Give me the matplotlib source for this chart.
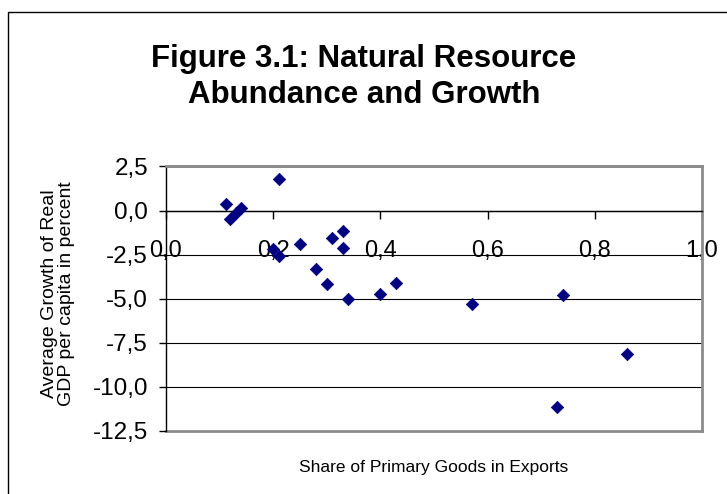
import matplotlib
matplotlib.use("Agg")
import matplotlib.pyplot as plt
from matplotlib.patches import Rectangle

plt.rcParams['font.family'] = ['Liberation Sans', 'DejaVu Sans']

# Data
share_primary = [0.112, 0.12, 0.13, 0.14, 0.21, 0.20, 0.21, 0.25, 0.28, 0.30,
                 0.31, 0.33, 0.33, 0.34, 0.40, 0.43, 0.57, 0.73, 0.74, 0.86]
growth = [0.40, -0.45, -0.15, 0.15, 1.80, -2.16, -2.56, -1.91, -3.30, -4.19,
          -1.57, -1.15, -2.14, -5.04, -4.73, -4.11, -5.30, -11.12, -4.77, -8.11]

x_ticks = [0.0, 0.2, 0.4, 0.6, 0.8, 1.0]
x_tick_labels = ["0,0", "0,2", "0,4", "0,6", "0,8", "1,0"]
y_ticks = [2.5, 0.0, -2.5, -5.0, -7.5, -10.0, -12.5]
y_tick_labels = ["2,5", "0,0", "-2,5", "-5,0", "-7,5", "-10,0", "-12,5"]

title = "Figure 3.1: Natural Resource\nAbundance and Growth"
xlabel = "Share of Primary Goods in Exports"
ylabel = "Average Growth of Real\nGDP per capita in percent"

W, H = 727, 494
fig = plt.figure(figsize=(W / 100, H / 100), dpi=100)

# outer chart-area border
fig.patches.append(Rectangle((8 / W, -0.05), 1.2, (482 / H) + 0.05,
                             transform=fig.transFigure, fill=False,
                             edgecolor='black', linewidth=1.0))

ax = fig.add_axes([166 / W, 63 / H, 536 / W, 264.5 / H])
ax.scatter(share_primary, growth, marker='D', s=40, color='#000080',
           edgecolors='#000080', linewidths=0.5, zorder=5, clip_on=False)

ax.set_xlim(0, 1.0)
ax.set_ylim(-12.5, 2.5)
ax.set_xticks(x_ticks)
ax.set_xticklabels(x_tick_labels)
ax.set_yticks(y_ticks)
ax.set_yticklabels(y_tick_labels)

ax.spines['bottom'].set_position(('data', 0))
ax.spines['bottom'].set_color('black')
ax.spines['left'].set_color('black')
ax.spines['top'].set_color('#8c8c8c')
ax.spines['right'].set_color('#8c8c8c')
for s in ax.spines.values():
    s.set_linewidth(1.0)
ax.spines['top'].set_linewidth(2.0)
ax.spines['right'].set_linewidth(2.0)

ax.grid(axis='y', color='black', linewidth=0.8)
gl = ax.yaxis.get_gridlines()
for g in (gl[0], gl[-1]):
    g.set_color('#8c8c8c')
    g.set_linewidth(2.0)
    g.set_clip_on(False)
ax.set_axisbelow(True)

ax.tick_params(axis='x', direction='out', length=6, width=1, pad=15,
               labelsize=17, colors='black')
ax.tick_params(axis='y', direction='out', length=5, width=1, pad=8,
               labelsize=17.5, colors='black')

fig.text(364 / W, 1 - 77 / H, title, ha='center', va='center',
         fontsize=22.5, fontweight='bold', linespacing=1.3)
fig.text(434 / W, 1 - 467 / H, xlabel, ha='center', va='center', fontsize=12.5)
fig.text(58 / W, 1 - 294 / H, ylabel, ha='center', va='center', rotation=90,
         fontsize=14, linespacing=0.95)

fig.savefig("out.png", dpi=100)
